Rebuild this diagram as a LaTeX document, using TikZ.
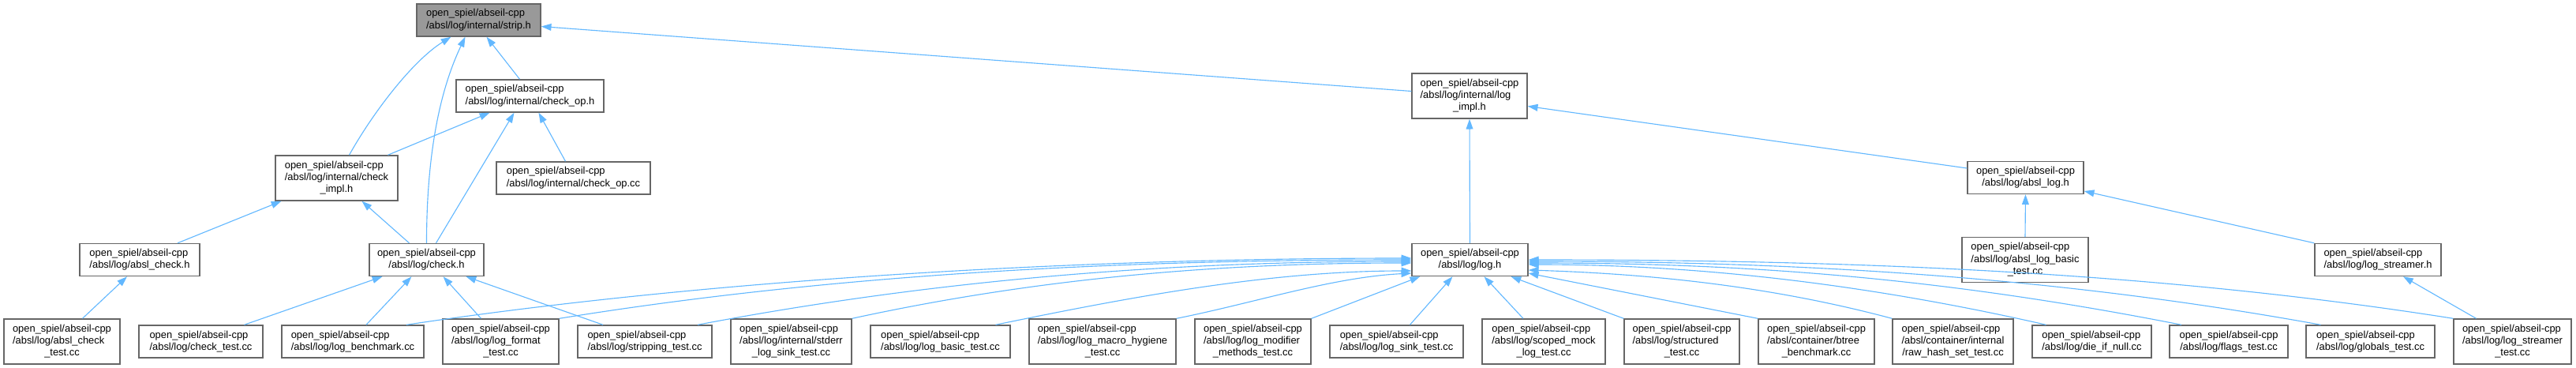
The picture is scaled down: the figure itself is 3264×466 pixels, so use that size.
\documentclass[tikz,border=0pt]{standalone}
\usepackage{fontspec}
\setmainfont{Liberation Sans}
\usetikzlibrary{arrows.meta,calc}

\definecolor{edgeblue}{HTML}{63B8FF}
\definecolor{boxline}{HTML}{666666}
\definecolor{curfill}{HTML}{999999}

% file labels: last line centred, the others flush left
\newcommand{\lblii}[2]{\begin{tabular}{@{}l@{}}#1\\\multicolumn{1}{@{}c@{}}{#2}\end{tabular}}
\newcommand{\lbliii}[3]{\begin{tabular}{@{}l@{}}#1\\#2\\\multicolumn{1}{@{}c@{}}{#3}\end{tabular}}

\begin{document}
\begin{tikzpicture}[x=0.025cm,y=-0.025cm,
  box/.style={draw=boxline, line width=1pt, fill=white, inner sep=0pt, font=\fontsize{9.18pt}{10.67pt}\selectfont},
  box2/.style={box, minimum height=41*0.025cm},
  box3/.style={box, minimum height=57*0.025cm},
  wd/.style={minimum width=#1*0.025cm},
  cur/.style={fill=curfill},
  dep/.style={draw=edgeblue, line width=0.8pt, -{Triangle[length=0.32cm,width=0.22cm]}}]
\useasboundingbox (0,0) rectangle (3264,466);

% upper rows
\node[box2, wd=157, cur] (strip) at (606.5,25.5) {\lblii{open\_spiel/abseil-cpp}{/absl/log/internal/strip.h}};
\node[box2, wd=187] (checkop) at (671.5,121.5) {\lblii{open\_spiel/abseil-cpp}{/absl/log/internal/check\_op.h}};
\node[box3, wd=146] (logimpl) at (1862,121.5) {\lbliii{open\_spiel/abseil-cpp}{/absl/log/internal/log}{\_impl.h}};
\node[box3, wd=155] (checkimpl) at (426.5,225.5) {\lbliii{open\_spiel/abseil-cpp}{/absl/log/internal/check}{\_impl.h}};
\node[box2, wd=195] (checkopcc) at (726.5,225.5) {\lblii{open\_spiel/abseil-cpp}{/absl/log/internal/check\_op.cc}};
\node[box2, wd=147] (abslog) at (2566.5,225) {\lblii{open\_spiel/abseil-cpp}{/absl/log/absl\_log.h}};
\node[box2, wd=152] (abslcheck) at (177,329) {\lblii{open\_spiel/abseil-cpp}{/absl/log/absl\_check.h}};
\node[box2, wd=145] (check) at (540.5,329) {\lblii{open\_spiel/abseil-cpp}{/absl/log/check.h}};
\node[box2, wd=147] (logh) at (1862.5,329) {\lblii{open\_spiel/abseil-cpp}{/absl/log/log.h}};
\node[box3, wd=160] (abslogbasic) at (2566,329) {\lbliii{open\_spiel/abseil-cpp}{/absl/log/absl\_log\_basic}{\_test.cc}};
\node[box2, wd=160] (logstreamer) at (3013,329) {\lblii{open\_spiel/abseil-cpp}{/absl/log/log\_streamer.h}};

% bottom row
\node[box3, wd=147] (abslchecktest) at (78.5,432.5) {\lbliii{open\_spiel/abseil-cpp}{/absl/log/absl\_check}{\_test.cc}};
\node[box2, wd=157] (checktest) at (254.5,432.5) {\lblii{open\_spiel/abseil-cpp}{/absl/log/check\_test.cc}};
\node[box2, wd=180] (logbench) at (447,432.5) {\lblii{open\_spiel/abseil-cpp}{/absl/log/log\_benchmark.cc}};
\node[box3, wd=147] (logformat) at (634.5,432.5) {\lbliii{open\_spiel/abseil-cpp}{/absl/log/log\_format}{\_test.cc}};
\node[box2, wd=170] (stripping) at (817,432.5) {\lblii{open\_spiel/abseil-cpp}{/absl/log/stripping\_test.cc}};
\node[box3, wd=153] (stderrsink) at (1002.5,432.5) {\lbliii{open\_spiel/abseil-cpp}{/absl/log/internal/stderr}{\_log\_sink\_test.cc}};
\node[box2, wd=177] (logbasic) at (1191.5,432.5) {\lblii{open\_spiel/abseil-cpp}{/absl/log/log\_basic\_test.cc}};
\node[box3, wd=186] (macrohyg) at (1397,432.5) {\lbliii{open\_spiel/abseil-cpp}{/absl/log/log\_macro\_hygiene}{\_test.cc}};
\node[box3, wd=147] (modifier) at (1587.5,432.5) {\lbliii{open\_spiel/abseil-cpp}{/absl/log/log\_modifier}{\_methods\_test.cc}};
\node[box2, wd=169] (logsink) at (1769.5,432.5) {\lblii{open\_spiel/abseil-cpp}{/absl/log/log\_sink\_test.cc}};
\node[box3, wd=156] (scopedmock) at (1956,432.5) {\lbliii{open\_spiel/abseil-cpp}{/absl/log/scoped\_mock}{\_log\_test.cc}};
\node[box3, wd=146] (structured) at (2131,432.5) {\lbliii{open\_spiel/abseil-cpp}{/absl/log/structured}{\_test.cc}};
\node[box3, wd=147] (btree) at (2301.5,432.5) {\lbliii{open\_spiel/abseil-cpp}{/absl/container/btree}{\_benchmark.cc}};
\node[box3, wd=153] (rawhash) at (2474.5,432.5) {\lbliii{open\_spiel/abseil-cpp}{/absl/container/internal}{/raw\_hash\_set\_test.cc}};
\node[box2, wd=151] (dieifnull) at (2650.5,432.5) {\lblii{open\_spiel/abseil-cpp}{/absl/log/die\_if\_null.cc}};
\node[box2, wd=150] (flags) at (2824,432.5) {\lblii{open\_spiel/abseil-cpp}{/absl/log/flags\_test.cc}};
\node[box2, wd=163] (globals) at (3003.5,432.5) {\lblii{open\_spiel/abseil-cpp}{/absl/log/globals\_test.cc}};
\node[box3, wd=149] (streamertest) at (3183.5,432.5) {\lbliii{open\_spiel/abseil-cpp}{/absl/log/log\_streamer}{\_test.cc}};

% includes of strip.h and check_op.h
\draw[dep] ($(checkimpl.north)+(16,0)$) .. controls +(32,-57) and +(-47,29) .. ($(strip.south)+(-35,0)$);
\draw[dep] (check.north) .. controls +(0,-120) and +(-30,63) .. ($(strip.south)+(-17,0)$);
\draw[dep] ($(checkop.north)+(-13,0)$) -- ($(strip.south)+(10,0)$);
\draw[dep] ($(logimpl.west)+(0,-6)$) -- ($(strip.east)+(0,8)$);
\draw[dep] ($(checkimpl.north)+(65,0)$) -- ($(checkop.south)+(-51,0)$);
\draw[dep] ($(check.north)+(12,0)$) -- ($(checkop.south)+(-20,0)$);
\draw[dep] ($(checkopcc.north)+(-10,0)$) -- ($(checkop.south)+(11,0)$);

% check side
\draw[dep] ($(abslcheck.north)+(48,0)$) -- ($(checkimpl.south)+(-70,0)$);
\draw[dep] ($(check.north)+(-22,0)$) -- ($(checkimpl.south)+(32,0)$);
\draw[dep] ($(abslchecktest.north)+(26,0)$) -- ($(abslcheck.south)+(-16,0)$);
\draw[dep] ($(checktest.north)+(55,0)$) -- ($(check.south)+(-56,0)$);
\draw[dep] ($(logbench.north)+(17,0)$) -- ($(check.south)+(-19,0)$);
\draw[dep] ($(logformat.north)+(-25,0)$) -- ($(check.south)+(21,0)$);
\draw[dep] ($(stripping.north)+(-53,0)$) -- ($(check.south)+(50,0)$);

% log side
\draw[dep] (logh.north) -- (logimpl.south);
\draw[dep] ($(abslog.west)+(0,-12)$) -- ($(logimpl.east)+(0,13)$);
\draw[dep] (abslogbasic.north) -- (abslog.south);
\draw[dep] (logstreamer.north west) -- ($(abslog.east)+(0,17)$);
\draw[dep] ($(streamertest.north)+(-46,0)$) -- ($(logstreamer.south)+(32,0)$);

% everything that includes log.h
\draw[dep] ($(logbench.north)+(68,0)$) .. controls +(400,-60) and +(-400,0) .. ($(logh.west)+(0,-2)$);
\draw[dep] (logformat.north east) .. controls +(340,-55) and +(-380,0) .. (logh.west);
\draw[dep] ($(stripping.north)+(67,0)$) .. controls +(290,-55) and +(-320,0) .. ($(logh.west)+(0,2)$);
\draw[dep] (stderrsink.north east) .. controls +(230,-50) and +(-250,0) .. ($(logh.west)+(0,4)$);
\draw[dep] ($(logbasic.north)+(70,0)$) .. controls +(170,-35) and +(-180,0) .. ($(logh.west)+(0,14)$);
\draw[dep] (macrohyg.north east) .. controls +(100,-20) and +(-100,5) .. ($(logh.west)+(0,17)$);
\draw[dep] (modifier.north east) -- ($(logh.south west)+(11,0)$);
\draw[dep] ($(logsink.north)+(17,0)$) -- ($(logh.south)+(-22,0)$);
\draw[dep] ($(scopedmock.north)+(-26,0)$) -- ($(logh.south)+(18,0)$);
\draw[dep] (structured.north west) -- ($(logh.south)+(52,0)$);
\draw[dep] (btree.north west) -- ($(logh.east)+(0,17)$);
\draw[dep] (rawhash.north west) .. controls +(-150,-40) and +(160,5) .. ($(logh.east)+(0,13)$);
\draw[dep] ($(dieifnull.north)+(-58,0)$) .. controls +(-220,-50) and +(220,0) .. ($(logh.east)+(0,6)$);
\draw[dep] ($(flags.north)+(-60,0)$) .. controls +(-280,-55) and +(300,0) .. ($(logh.east)+(0,4)$);
\draw[dep] ($(globals.north)+(-63,0)$) .. controls +(-330,-60) and +(350,0) .. ($(logh.east)+(0,2)$);
\draw[dep] (streamertest.north west) .. controls +(-380,-60) and +(400,0) .. (logh.east);
\end{tikzpicture}
\end{document}
